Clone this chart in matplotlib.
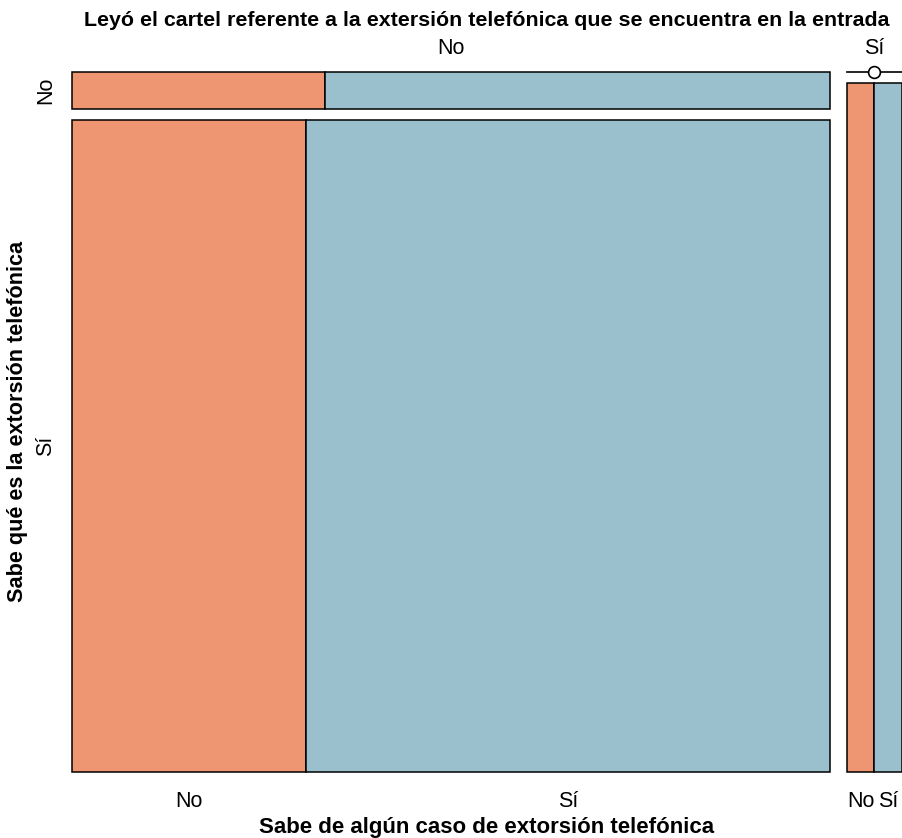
import matplotlib

matplotlib.use("Agg")
import matplotlib.pyplot as plt
from matplotlib.patches import Rectangle

plt.rcParams["font.family"] = ["Liberation Sans", "DejaVu Sans"]

# mosaic of three yes/no questions (counts)
leyo_levels = ["No", "Sí"]        # columns (top)
sabe_que_levels = ["No", "Sí"]    # rows (left)
sabe_caso_levels = ["No", "Sí"]   # split inside each cell (bottom)
counts_leyo_no = [[7, 14], [114, 255]]   # [sabe_que][sabe_caso]
counts_leyo_si = [[0, 0], [14, 14]]
colors = ["#EE9572", "#9AC0CD"]

title = "Leyó el cartel referente a la extersión telefónica que se encuentra en la entrada"
xlabel = "Sabe de algún caso de extorsión telefónica"
ylabel = "Sabe qué es la extorsión telefónica"

# plot region in pixels
X0, X1, Y0, Y1 = 72, 901.5, 72, 772
GAP_X, GAP_Y = 17, 11
LAB_FS = 15.5

fig = plt.figure(figsize=(9.02, 8.38), dpi=100)
ax = fig.add_axes([0, 0, 1, 1])
ax.set_xlim(0, 902)
ax.set_ylim(838, 0)
ax.axis("off")

tables = [counts_leyo_no, counts_leyo_si]
col_tot = [sum(sum(r) for r in t) for t in tables]
grand = sum(col_tot)
avail_w = (X1 - X0) - GAP_X * (len(tables) - 1)
avail_h = (Y1 - Y0) - GAP_Y * (len(sabe_que_levels) - 1)

x = X0
for ci, tab in enumerate(tables):
    w = avail_w * col_tot[ci] / grand
    ax.text(x + w / 2, 48, leyo_levels[ci], ha="center", va="center", fontsize=LAB_FS)
    y = Y0
    for ri, row in enumerate(tab):
        h = avail_h * sum(row) / col_tot[ci]
        if sum(row) == 0:
            # empty cell: R draws a line with a small open circle
            ax.plot([x, x + w], [y, y], color="black", lw=1.2)
            ax.plot(x + w / 2, y, "o", mfc="white", mec="black", ms=8.5, mew=1.2)
        else:
            xx = x
            for k, v in enumerate(row):
                ww = w * v / sum(row)
                ax.add_patch(Rectangle((xx, y), ww, h, facecolor=colors[k],
                                       edgecolor="black", lw=1.1))
                if ri == len(tab) - 1:
                    ax.text(xx + ww / 2, 801, sabe_caso_levels[k], ha="center",
                            va="center", fontsize=LAB_FS)
                xx += ww
        if ci == 0:
            ax.text(46, y + h / 2, sabe_que_levels[ri], ha="center", va="center",
                    rotation=90, fontsize=LAB_FS)
        y += h + GAP_Y
    x += w + GAP_X

cx = (X0 + X1) / 2
ax.text(cx, 21, title, ha="center", va="center", fontsize=15.4, fontweight="bold")
ax.text(cx, 827, xlabel, ha="center", va="center", fontsize=16, fontweight="bold")
ax.text(18, (Y0 + Y1) / 2 - 1, ylabel, ha="center", va="center", rotation=90,
        fontsize=15.6, fontweight="bold")

fig.savefig("out.png", dpi=100)
